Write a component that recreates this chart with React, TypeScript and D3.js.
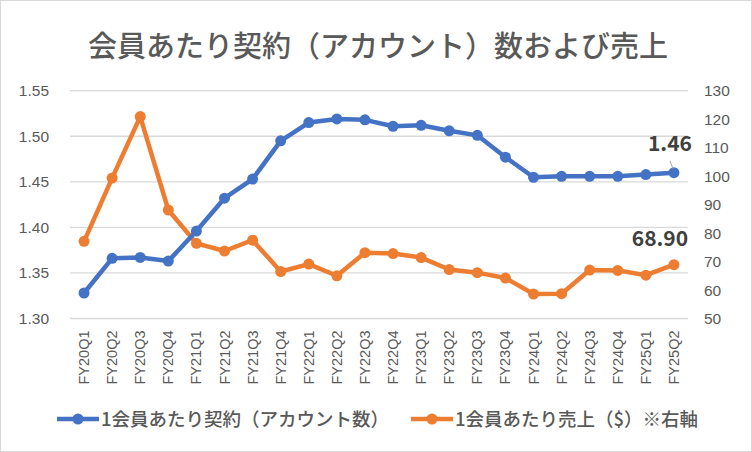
import * as d3 from "d3";

const categories = [
  "FY20Q1", "FY20Q2", "FY20Q3", "FY20Q4",
  "FY21Q1", "FY21Q2", "FY21Q3", "FY21Q4",
  "FY22Q1", "FY22Q2", "FY22Q3", "FY22Q4",
  "FY23Q1", "FY23Q2", "FY23Q3", "FY23Q4",
  "FY24Q1", "FY24Q2", "FY24Q3", "FY24Q4",
  "FY25Q1", "FY25Q2",
];

// 1会員あたり契約（アカウント数） - left axis
const contracts = [
  1.328, 1.366, 1.367, 1.363,
  1.396, 1.432, 1.453, 1.495,
  1.515, 1.519, 1.518, 1.511,
  1.512, 1.506, 1.501, 1.477,
  1.455, 1.456, 1.456, 1.456,
  1.458, 1.46,
];

// 1会員あたり売上（$） - right axis
const sales = [
  77.1, 99.3, 120.9, 88.1,
  76.4, 73.7, 77.5, 66.5,
  69.1, 65.0, 73.1, 72.8,
  71.4, 67.2, 66.1, 64.2,
  58.6, 58.7, 67.0, 66.9,
  65.2, 68.9,
];

const leftTicks = [1.3, 1.35, 1.4, 1.45, 1.5, 1.55];
const rightTicks = [50, 60, 70, 80, 90, 100, 110, 120, 130];

const title = "会員あたり契約（アカウント）数および売上";
const legendLabels = ["1会員あたり契約（アカウント数）", "1会員あたり売上（$）※右軸"];

const W = 752;
const H = 452;
const plot = { left: 70, right: 688, top: 90.7, bottom: 318.5 };
const BLUE = "#4472C4";
const ORANGE = "#ED7D31";
const GRID = "#d9d9d9";
const TEXT = "#595959";
const numFont = "'Liberation Sans', Arial, sans-serif";
const jpFont = "'Noto Sans CJK JP', 'Noto Sans', sans-serif";

export default function App() {
  const x = d3
    .scaleBand()
    .domain(categories)
    .range([plot.left, plot.right])
    .padding(0);
  const cx = (c: string) => x(c)! + x.bandwidth() / 2;

  const yL = d3.scaleLinear().domain([1.3, 1.55]).range([plot.bottom, plot.top]);
  const yR = d3.scaleLinear().domain([50, 130]).range([plot.bottom, plot.top]);

  const blueLine = d3
    .line<number>()
    .x((_, i) => cx(categories[i]))
    .y((d) => yL(d));
  const orangeLine = d3
    .line<number>()
    .x((_, i) => cx(categories[i]))
    .y((d) => yR(d));

  const lastIdx = categories.length - 1;
  const lastX = cx(categories[lastIdx]);
  const lastBlueY = yL(contracts[lastIdx]);
  const lastOrangeY = yR(sales[lastIdx]);

  return (
    <svg
      width={W}
      height={H}
      style={{ position: "absolute", left: 0, top: 0, background: "#fff" }}
    >
      <rect x={0.5} y={0.5} width={W - 1} height={H - 1} fill="#fff" stroke={GRID} />

      <text
        x={378}
        y={57}
        textAnchor="middle"
        fontFamily={jpFont}
        fontWeight={500}
        fontSize={29}
        fill={TEXT}
      >
        {title}
      </text>

      {/* gridlines */}
      {leftTicks.map((t) => (
        <line
          key={t}
          x1={plot.left}
          x2={plot.right}
          y1={yL(t)}
          y2={yL(t)}
          stroke={GRID}
          strokeWidth={1.3}
        />
      ))}

      {/* left axis labels */}
      {leftTicks.map((t) => (
        <text
          key={t}
          x={49}
          y={yL(t) + 5.5}
          textAnchor="end"
          fontFamily={numFont}
          fontSize={15.5}
          fill={TEXT}
        >
          {t.toFixed(2)}
        </text>
      ))}

      {/* right axis labels */}
      {rightTicks.map((t) => (
        <text
          key={t}
          x={704}
          y={yR(t) + 5.5}
          textAnchor="start"
          fontFamily={numFont}
          fontSize={15.5}
          fill={TEXT}
        >
          {t}
        </text>
      ))}

      {/* category labels */}
      {categories.map((c) => (
        <text
          key={c}
          transform={`translate(${cx(c) + 5},${plot.bottom + 12}) rotate(-90)`}
          textAnchor="end"
          fontFamily={numFont}
          fontSize={14.5}
          fill={TEXT}
        >
          {c}
        </text>
      ))}

      {/* series */}
      <path
        d={orangeLine(sales)!}
        fill="none"
        stroke={ORANGE}
        strokeWidth={4.5}
        strokeLinejoin="round"
      />
      {sales.map((v, i) => (
        <circle key={i} cx={cx(categories[i])} cy={yR(v)} r={5.5} fill={ORANGE} />
      ))}
      <path
        d={blueLine(contracts)!}
        fill="none"
        stroke={BLUE}
        strokeWidth={4.5}
        strokeLinejoin="round"
      />
      {contracts.map((v, i) => (
        <circle key={i} cx={cx(categories[i])} cy={yL(v)} r={5.5} fill={BLUE} />
      ))}

      {/* data labels */}
      <line
        x1={lastX - 4}
        y1={lastBlueY - 12}
        x2={lastX - 1}
        y2={lastBlueY - 4}
        stroke="#a6a6a6"
        strokeWidth={1}
      />
      <text
        x={lastX - 4}
        y={lastBlueY - 22}
        textAnchor="middle"
        fontFamily={jpFont}
        fontWeight="bold"
        fontSize={21}
        fill="#404040"
      >
        {contracts[lastIdx].toFixed(2)}
      </text>
      <text
        x={lastX - 14}
        y={lastOrangeY - 19}
        textAnchor="middle"
        fontFamily={jpFont}
        fontWeight="bold"
        fontSize={21}
        fill="#404040"
      >
        {sales[lastIdx].toFixed(2)}
      </text>

      {/* legend */}
      {[
        { color: BLUE, x0: 57, label: legendLabels[0] },
        { color: ORANGE, x0: 411, label: legendLabels[1] },
      ].map((l) => (
        <g key={l.label}>
          <line
            x1={l.x0}
            x2={l.x0 + 42}
            y1={419}
            y2={419}
            stroke={l.color}
            strokeWidth={4.5}
          />
          <circle cx={l.x0 + 21} cy={419} r={5.5} fill={l.color} />
          <text
            x={l.x0 + 44}
            y={425.5}
            fontFamily={jpFont}
            fontWeight={500}
            fontSize={18.5}
            fill={TEXT}
          >
            {l.label}
          </text>
        </g>
      ))}
    </svg>
  );
}
